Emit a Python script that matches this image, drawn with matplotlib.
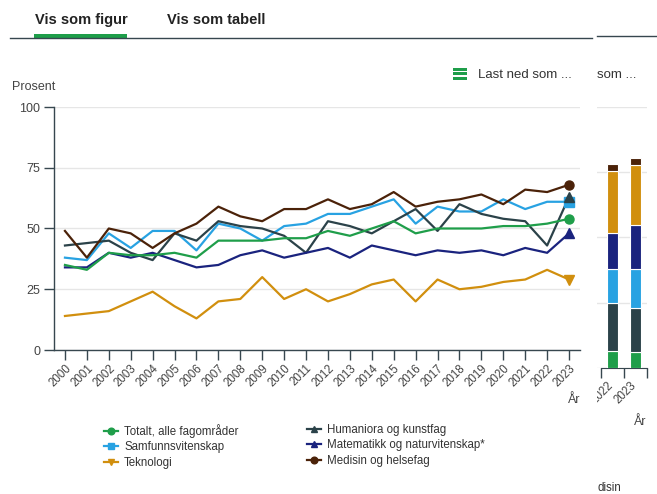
import matplotlib
matplotlib.use("Agg")
import matplotlib.pyplot as plt
from matplotlib.lines import Line2D
from matplotlib.patches import Rectangle
from matplotlib.transforms import offset_copy
import numpy as np

plt.rcParams['font.family'] = ['Liberation Sans', 'DejaVu Sans']

years = list(range(2000, 2024))
totalt = [35, 33, 40, 39, 39, 40, 38, 45, 45, 45, 46, 46, 49, 47, 50, 53, 48, 50, 50, 50, 51, 51, 52, 54]
samfunn = [38, 37, 48, 42, 49, 49, 41, 52, 50, 45, 51, 52, 56, 56, 59, 62, 52, 59, 57, 57, 62, 58, 61, 61]
teknologi = [14, 15, 16, 20, 24, 18, 13, 20, 21, 30, 21, 25, 20, 23, 27, 29, 20, 29, 25, 26, 28, 29, 33, 29]
humaniora = [43, 44, 45, 40, 37, 48, 45, 53, 51, 50, 47, 40, 53, 51, 48, 53, 58, 49, 60, 56, 54, 53, 43, 63]
matematikk = [34, 34, 40, 38, 40, 37, 34, 35, 39, 41, 38, 40, 42, 38, 43, 41, 39, 41, 40, 41, 39, 42, 40, 48]
medisin = [49, 38, 50, 48, 42, 48, 52, 59, 55, 53, 58, 58, 62, 58, 60, 65, 59, 61, 62, 64, 60, 66, 65, 68]

labels = ["Totalt, alle fagområder", "Samfunnsvitenskap", "Teknologi",
          "Humaniora og kunstfag", "Matematikk og naturvitenskap*", "Medisin og helsefag"]
colors = ["#1f9e4a", "#28a2e2", "#d18f0e", "#2b4249", "#1a237e", "#4b2209"]
markers = ["o", "s", "v", "^", "^", "o"]
series = [totalt, samfunn, teknologi, humaniora, matematikk, medisin]

# partial stacked bar chart on the right (clipped neighbour chart)
bar_years = ["2022", "2023"]
bar_green = [6.5, 6.1]
bar_slate = [18.4, 16.9]
bar_lblue = [13.0, 14.9]
bar_navy = [13.8, 16.9]
bar_orange = [23.8, 23.0]
bar_brown = [2.7, 2.7]

W, H = 657, 494
fig = plt.figure(figsize=(W / 100, H / 100), dpi=100)


def fx(x):
    return x / W


def fy(y):
    return 1 - y / H


AX_COL = "#37474f"
TXT = "#444444"

# main axes
ax = fig.add_axes([fx(54), fy(350), fx(580) - fx(54), fy(107) - fy(350)])
draw_order = [1, 3, 4, 0, 2, 5]
for i in draw_order:
    ax.plot(years, series[i], color=colors[i], lw=1.6, zorder=3)
    ax.plot([years[-1]], [series[i][-1]], marker=markers[i], color=colors[i],
            ms=6.5, zorder=4, clip_on=False)

ax.set_xlim(1999.5, 2023.5)
ax.set_ylim(0, 100)
ax.set_yticks([0, 25, 50, 75, 100])
ax.set_xticks(years)
ax.set_xticklabels([str(y) for y in years], rotation=45, ha='right', va='top',
                   rotation_mode='anchor')
ax.tick_params(axis='x', length=7, width=1, color=AX_COL, labelsize=8.3,
               labelcolor=TXT, pad=2)
ax.tick_params(axis='y', length=7, width=1, color=AX_COL, labelsize=9,
               labelcolor=TXT, pad=3)
ax.grid(axis='y', color="#e6e6e6", lw=1)
ax.set_axisbelow(True)
for s in ['top', 'right']:
    ax.spines[s].set_visible(False)
for s in ['left', 'bottom']:
    ax.spines[s].set_color(AX_COL)
    ax.spines[s].set_linewidth(1)

fig.text(fx(12), fy(87), "Prosent", fontsize=9, color=TXT, va='center', ha='left')
fig.text(fx(574), fy(400), "År", fontsize=9, color=TXT, va='center', ha='center')

# legends
handles = [Line2D([0], [0], color=colors[i], marker=markers[i], lw=1.6, ms=4.8)
           for i in range(6)]
for col, x0 in [(0, 104), (1, 307)]:
    idx = [0, 1, 2] if col == 0 else [3, 4, 5]
    leg = fig.legend([handles[i] for i in idx], [labels[i] for i in idx],
                     loc='upper left', bbox_to_anchor=(fx(x0), fy(424)),
                     frameon=False, fontsize=8.3, handlelength=1.2,
                     handletextpad=0.55, labelspacing=0.3, borderpad=0,
                     borderaxespad=0)
    for t in leg.get_texts():
        t.set_color("#333333")

# tabs header
fig.text(fx(35), fy(20), "Vis som figur", fontsize=10.5, fontweight='bold',
         color="#222222", va='center', ha='left')
fig.text(fx(167), fy(20), "Vis som tabell", fontsize=10.5, fontweight='bold',
         color="#222222", va='center', ha='left')
fig.add_artist(Rectangle((fx(34), fy(38)), fx(127) - fx(34), 4 / H,
                         transform=fig.transFigure, color="#1e9e4a", lw=0))
fig.add_artist(Line2D([fx(10), fx(592)], [fy(38.5), fy(38.5)],
                      transform=fig.transFigure, color="#37474f", lw=1))
fig.add_artist(Line2D([fx(597), fx(657)], [fy(36.5), fy(36.5)],
                      transform=fig.transFigure, color="#37474f", lw=1))

# download icon + text
for yy in [69, 74, 79]:
    fig.add_artist(Rectangle((fx(453), fy(yy + 1.5)), fx(467) - fx(453), 3 / H,
                             transform=fig.transFigure, color="#1e9e4a", lw=0))
fig.text(fx(478), fy(75), "Last ned som ...", fontsize=9.5, color="#333333",
         va='center', ha='left')
fig.text(fx(597), fy(75), "som ...", fontsize=9.5, color="#333333",
         va='center', ha='left')

# partial right bar chart
bx = fig.add_axes([fx(597), fy(368), fx(647) - fx(597), fy(107) - fy(368)])
pos = np.arange(len(bar_years))
bottom = np.zeros(len(bar_years))
stack = [(bar_green, colors[0]), (bar_slate, colors[3]), (bar_lblue, colors[1]),
         (bar_navy, colors[4]), (bar_orange, colors[2]), (bar_brown, colors[5])]
for vals, c in stack:
    bx.bar(pos, vals, bottom=bottom, width=0.5, color=c, edgecolor='white',
           linewidth=0.8, zorder=3)
    bottom = bottom + np.array(vals)
bx.set_xlim(-0.674, 1.5)
bx.set_ylim(0, 100)
bx.set_yticks([0, 25, 50, 75, 100])
bx.tick_params(axis='y', left=False, labelleft=False)
bx.grid(axis='y', color="#e6e6e6", lw=1)
bx.set_axisbelow(True)
for s in ['top', 'right', 'left']:
    bx.spines[s].set_visible(False)
bx.spines['bottom'].set_color(AX_COL)
bx.spines['bottom'].set_bounds(-0.5, 1.5)
bx.set_xticks([-0.5, 0.5, 1.5])
bx.set_xticklabels([])
bx.tick_params(axis='x', length=7, width=1, color=AX_COL)
lbl_tr = offset_copy(bx.get_xaxis_transform(), fig=fig, x=-5, y=-12, units='dots')
for p, lab in zip(pos, bar_years):
    bx.text(p, 0, lab, transform=lbl_tr, rotation=45, ha='right', va='top',
            rotation_mode='anchor', fontsize=8.3, color=TXT, clip_on=False)
# white mask: the neighbour chart is cut off at the left edge
fig.add_artist(Rectangle((fx(582), fy(412)), fx(597) - fx(582), (412 - 371) / H,
                         transform=fig.transFigure, color='white', lw=0,
                         zorder=10))
fig.text(fx(640), fy(422), "År", fontsize=9, color=TXT, va='center', ha='center')
fig.text(fx(597), fy(488), "disin", fontsize=8.3, color="#333333",
         va='center', ha='left')

fig.savefig("out.png", dpi=100)
